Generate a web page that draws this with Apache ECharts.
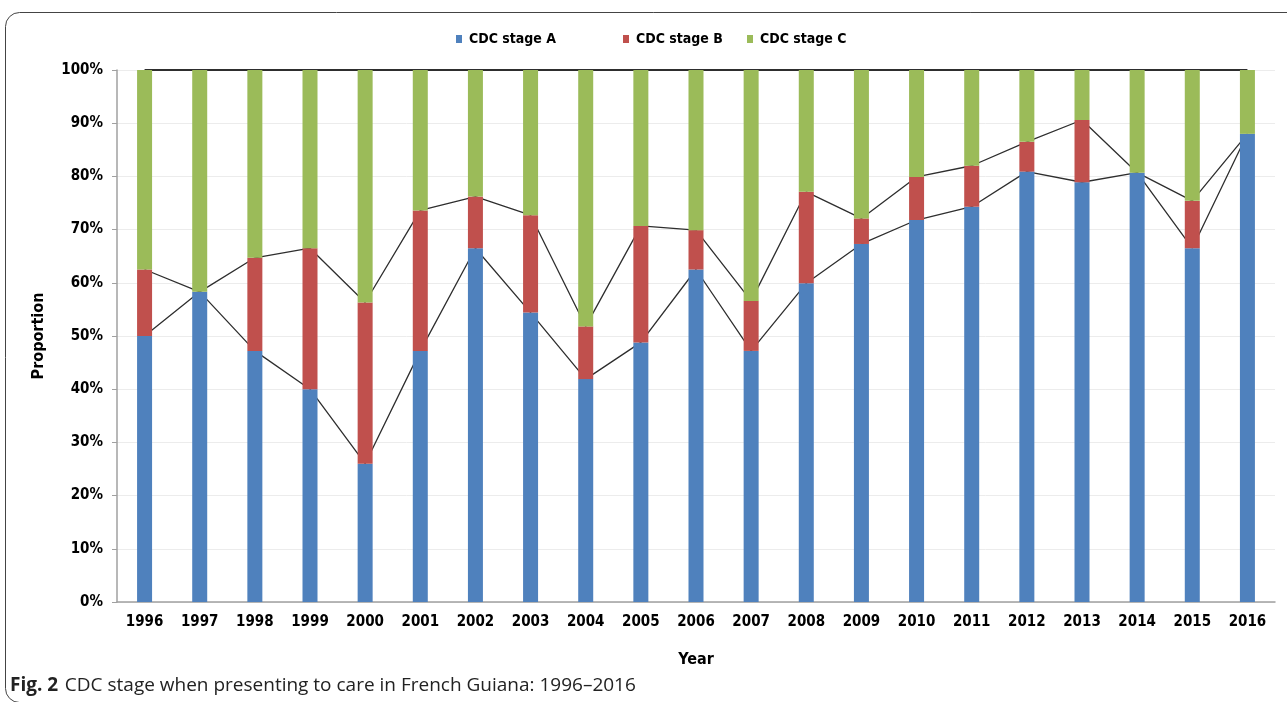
<!DOCTYPE html>
<html>
<head>
<meta charset="utf-8">
<script src="https://cdn.jsdelivr.net/npm/echarts@6/dist/echarts.min.js"></script>
<style>
html,body{margin:0;padding:0;background:#fff;}
#chart{width:1287px;height:702px;}
</style>
</head>
<body>
<div id="chart"></div>
<script>
const years = ['1996','1997','1998','1999','2000','2001','2002','2003','2004','2005','2006','2007','2008','2009','2010','2011','2012','2013','2014','2015','2016'];
const stageA = [50, 58.3, 47.2, 40, 26, 47.2, 66.5, 54.4, 41.9, 48.8, 62.5, 47.2, 59.9, 67.3, 71.8, 74.3, 80.9, 78.9, 80.7, 66.5, 88];
const stageB = [12.5, 0, 17.5, 26.5, 30.3, 26.4, 9.7, 18.3, 9.9, 21.9, 7.4, 9.4, 17.2, 4.8, 8.1, 7.7, 5.6, 11.7, 0, 8.9, 0];
const stageC = [37.5, 41.7, 35.3, 33.5, 43.7, 26.4, 23.8, 27.3, 48.2, 29.3, 30.1, 43.4, 22.9, 27.9, 20.1, 18, 13.5, 9.4, 19.3, 24.6, 12];
const yTicks = ['0%','10%','20%','30%','40%','50%','60%','70%','80%','90%','100%'];

const cumA = stageA.map(v => v);
const cumAB = stageA.map((v, i) => v + stageB[i]);
const cumABC = stageA.map((v, i) => v + stageB[i] + stageC[i]);

const FONT = "'DejaVu Sans Condensed', 'Liberation Sans Narrow', 'DejaVu Sans', sans-serif";
const lab = {fontFamily: FONT, fontWeight: 'bold', fontSize: 15, color: '#000'};

function lineSeries(data, w, z) {
  return {type: 'line', data: data, z: z, symbol: 'none', silent: true,
    lineStyle: {color: '#2e2e2e', width: w}, emphasis: {disabled: true}};
}
function legendAt(name, left) {
  return {data: [name], left: left, top: 27, itemWidth: 6, itemHeight: 8, itemGap: 0,
    icon: 'rect', textStyle: Object.assign({}, lab, {fontSize: 14, padding: [0,0,0,2]}),
    selectedMode: false};
}

const chart = echarts.init(document.getElementById('chart'));
chart.setOption({
  animation: false,
  backgroundColor: '#fff',
  legend: [legendAt('CDC stage A', 451), legendAt('CDC stage B', 618), legendAt('CDC stage C', 742)],
  grid: {left: 117, right: 12, top: 70, bottom: 100},
  xAxis: {
    type: 'category', data: years,
    axisTick: {show: false},
    axisLine: {lineStyle: {color: '#a0a0a0', width: 1.5}},
    axisLabel: Object.assign({}, lab, {margin: 13}),
    name: 'Year', nameLocation: 'middle', nameGap: 50,
    nameTextStyle: Object.assign({}, lab, {fontSize: 16})
  },
  yAxis: {
    type: 'value', min: 0, max: 100, interval: 10,
    axisLine: {show: true, lineStyle: {color: '#a0a0a0', width: 1.5}},
    axisTick: {show: true, length: 5, lineStyle: {color: '#a0a0a0'}},
    splitLine: {lineStyle: {color: '#ececec'}},
    axisLabel: Object.assign({}, lab, {margin: 14, formatter: v => yTicks[Math.round(v / 10)]}),
    name: 'Proportion', nameLocation: 'middle', nameGap: 70, nameRotate: 90,
    nameTextStyle: Object.assign({}, lab, {fontSize: 16})
  },
  series: [
    {name: 'CDC stage A', type: 'bar', stack: 's', data: stageA, barWidth: 15, z: 2, itemStyle: {color: '#4F81BD'}},
    {name: 'CDC stage B', type: 'bar', stack: 's', data: stageB, barWidth: 15, z: 2, itemStyle: {color: '#C0504D'}},
    {name: 'CDC stage C', type: 'bar', stack: 's', data: stageC, barWidth: 15, z: 2, itemStyle: {color: '#9BBB59'}},
    lineSeries(cumA, 1.3, 1), lineSeries(cumAB, 1.3, 1), lineSeries(cumABC, 2, 1)
  ],
  graphic: [
    {type: 'rect', silent: true, z: 100,
     shape: {x: 5.5, y: 12.5, width: 1300, height: 690, r: 14},
     style: {fill: 'none', stroke: '#444', lineWidth: 1}},
    {type: 'text', left: 10, top: 676, z: 100,
     style: {text: '{b|Fig. 2}  {n|CDC stage when presenting to care in French Guiana: 1996–2016}',
       rich: {
         b: {fontFamily: "'Open Sans', 'Noto Sans', sans-serif", fontWeight: 'bold', fontSize: 19, fill: '#222'},
         n: {fontFamily: "'Open Sans', 'Noto Sans', sans-serif", fontSize: 19, fill: '#222'}
       }}}
  ]
});
</script>
</body>
</html>
